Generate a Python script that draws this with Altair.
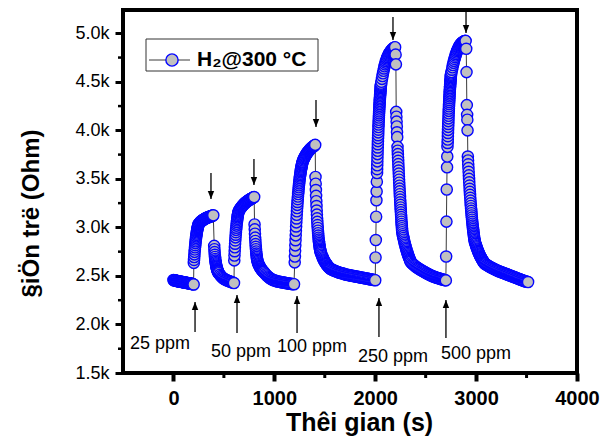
import altair as alt
import pandas as pd

FONT = "Liberation Sans"

# Resistance trace of the sensor (Ohm). Each run is (start time s, sampling step s, readings).
air_start = [
    (0, 5, [2458, 2456, 2455, 2454, 2452, 2451, 2450, 2449, 2447, 2446, 2445, 2444, 2443, 2442,
            2441, 2440, 2439, 2438, 2437, 2436, 2435, 2434, 2433, 2432, 2431, 2430, 2429, 2428,
            2427, 2426, 2425, 2424, 2423, 2422, 2421, 2420, 2419, 2418, 2416, 2414, 2412]),
]

cycle_25ppm = [
    (202, 2, [2635, 2665, 2695, 2722, 2748, 2772, 2795, 2817, 2838, 2857, 2875, 2892, 2908,
              2923, 2937, 2950, 2962, 2973, 2984, 2994, 3003, 3012, 3020, 3028, 3035]),
    (255, 5, [3041, 3047, 3053, 3058, 3063, 3067, 3071, 3075, 3079, 3082, 3085, 3088, 3091,
              3094, 3096, 3099, 3101, 3103, 3105, 3107, 3109, 3111, 3113, 3115, 3117, 3119,
              3121, 3123, 3125]),
    (404, 2, [2810, 2775, 2745, 2718, 2695, 2675, 2658, 2643, 2630, 2618, 2607, 2597, 2588,
              2580, 2572, 2565, 2558, 2552, 2546, 2541, 2536]),
    (450, 10, [2528, 2512, 2499, 2488, 2479, 2471, 2465, 2460, 2455, 2451, 2447, 2443, 2439,
               2435, 2431, 2427]),
]

cycle_50ppm = [
    (603, 2, [2660, 2710, 2755, 2795, 2832, 2866, 2897, 2925, 2951, 2975, 2997, 3018, 3037,
              3055, 3072, 3088, 3103, 3117, 3130, 3142, 3153, 3163]),
    (650, 5, [3172, 3181, 3189, 3197, 3204, 3211, 3218, 3224, 3230, 3236, 3241, 3246, 3251,
              3256, 3260, 3264, 3268, 3272, 3276, 3279, 3283, 3286, 3289, 3292, 3295, 3298,
              3301, 3304, 3307, 3310, 3313]),
    (804, 2, [3030, 2980, 2935, 2895, 2860, 2828, 2800, 2775, 2752, 2731, 2712, 2695, 2680,
              2666, 2653]),
    (836, 4, [2641, 2630, 2620, 2611, 2602, 2594, 2587, 2580, 2574, 2568, 2562, 2557, 2552,
              2547, 2543, 2539]),
    (905, 10, [2528, 2516, 2505, 2495, 2486, 2478, 2471, 2465, 2460, 2456, 2452, 2449, 2446,
               2443, 2441, 2439, 2437, 2435, 2433, 2431, 2429, 2427, 2425, 2423, 2421, 2420,
               2418, 2417, 2416, 2415]),
]

cycle_100ppm = [
    (1202, 2, [2640, 2700, 2760, 2815, 2868, 2918, 2965, 3010, 3052, 3092, 3130, 3166, 3200,
               3232, 3262, 3291, 3318, 3344, 3368, 3391, 3413, 3434, 3454, 3473, 3491, 3508,
               3524, 3539, 3553, 3567, 3580, 3593, 3605, 3617, 3628, 3639, 3649, 3659, 3668,
               3677]),
    (1285, 5, [3690, 3702, 3713, 3723, 3733, 3742, 3751, 3759, 3767, 3774, 3781, 3788, 3794,
               3800, 3806, 3811, 3816, 3821, 3826, 3830, 3834, 3838, 3842, 3846, 3850]),
    (1408, 2, [3520, 3450, 3385, 3325, 3270, 3220, 3174, 3132, 3093, 3057, 3024, 2994, 2966,
               2940, 2916, 2894, 2874, 2856, 2839, 2823, 2808, 2794, 2781, 2769, 2758, 2747]),
    (1463, 5, [2735, 2720, 2706, 2693, 2681, 2670, 2660, 2650, 2641, 2633, 2625, 2618, 2611,
               2604, 2598, 2592, 2586, 2581, 2576]),
    (1560, 10, [2571, 2566, 2561, 2556, 2552, 2548, 2544, 2540, 2536, 2533, 2530, 2527, 2524,
                2521, 2518, 2515, 2512, 2510, 2508, 2506, 2504, 2502, 2500, 2498, 2496, 2494,
                2492, 2490, 2488, 2486, 2484, 2482, 2480, 2478, 2476, 2474, 2472, 2470, 2468,
                2466, 2464, 2462, 2460, 2458, 2456]),
]

cycle_250ppm = [
    (2003, 3, [2690, 2870, 3110, 3280]),
    (2014, 2, [3370, 3470, 3560]),
    (2019, 1, [3600, 3640, 3680, 3718, 3755, 3790, 3824, 3857, 3889, 3920, 3950, 3979, 4007,
               4034, 4060, 4085, 4109, 4132, 4154, 4175, 4195, 4215, 4234, 4252, 4270, 4287,
               4304, 4320, 4336, 4351, 4366, 4380, 4394, 4408, 4421, 4434, 4446, 4458, 4470,
               4481]),
    (2062, 5, [4500, 4530, 4560, 4588, 4614, 4638, 4660, 4680, 4698, 4714, 4729, 4743, 4756,
               4768, 4779, 4789, 4798, 4806, 4814, 4821, 4827, 4833, 4838, 4843, 4847, 4851,
               4854, 4857]),
    (2202, 3, [4780, 4680]),
    (2208, 2, [4190, 4140, 4090, 4040, 3980, 3930]),
    (2221, 1, [3830]),
    (2223, 1.5, [3790, 3755, 3720, 3686, 3652, 3619, 3586, 3554, 3522, 3491, 3460, 3430, 3400,
                 3371, 3342, 3314, 3286, 3259, 3232, 3206, 3180, 3155, 3130, 3106, 3082, 3059,
                 3036, 3014, 2992, 2971, 2950]),
    (2272, 4, [2930, 2910, 2891, 2873, 2855, 2838, 2822, 2806, 2791, 2776, 2762, 2748, 2735,
               2722, 2710, 2698, 2687, 2676, 2666, 2656]),
    (2350, 10, [2645, 2634, 2624, 2615, 2606, 2598, 2590, 2583, 2576, 2569, 2563, 2557, 2551,
                2546, 2541, 2533, 2527, 2521, 2516, 2511, 2506, 2501, 2497, 2493, 2489, 2485,
                2481, 2478, 2475, 2472, 2469, 2466, 2463, 2460, 2457, 2454]),
]

cycle_500ppm = [
    (2703, 3, [2700, 3060, 3390, 3620]),
    (2714, 2, [3730, 3830]),
    (2718, 1, [3870, 3905, 3940, 3973, 4005, 4036, 4066, 4095, 4123, 4150, 4176, 4201, 4225,
               4248, 4270, 4291, 4311, 4331, 4350, 4368, 4386, 4403, 4420, 4436, 4452, 4467,
               4482, 4496, 4510, 4523, 4536, 4549, 4561, 4573, 4585]),
    (2756, 5, [4600, 4625, 4650, 4673, 4695, 4716, 4736, 4754, 4771, 4787, 4802, 4816, 4829,
               4841, 4852, 4862, 4871, 4879, 4886, 4892, 4898, 4903, 4907, 4911, 4914, 4917,
               4919, 4921, 4922]),
    (2902, 3, [4840, 4600, 4260, 4160]),
    (2913, 2, [4110, 4000]),
    (2918, 1, [3730]),
    (2920, 2, [3690, 3650, 3611, 3573, 3536, 3500, 3465, 3431, 3398, 3366, 3335, 3305, 3276,
               3248, 3221, 3195, 3170, 3146, 3123, 3101, 3079, 3058, 3038, 3019, 3000, 2982,
               2964, 2947, 2931, 2915, 2900, 2885, 2871, 2857]),
    (2990, 4, [2843, 2830, 2817, 2805, 2793, 2781, 2770, 2759, 2749, 2739, 2729, 2720, 2711,
               2702, 2694, 2686, 2678, 2671, 2664, 2657, 2650, 2644, 2638, 2632, 2626]),
    (3095, 10, [2621, 2614, 2607, 2601, 2595, 2589, 2583, 2578, 2573, 2568, 2563, 2558, 2553,
                2549, 2545, 2541, 2537, 2533, 2529, 2525, 2521, 2517, 2513, 2509, 2505, 2501,
                2497, 2493, 2489, 2485, 2481, 2477, 2473, 2469, 2465, 2461, 2457, 2453, 2449,
                2446, 2443, 2440, 2437]),
]

# Gas-on (up) and gas-off (down) markers: time, arrow tail, arrow tip (Ohm)
gas_on_t = [214, 630, 1225, 2037, 2701]
gas_on_tail = [1922, 1912, 1912, 1871, 1861]
gas_on_tip = [2231, 2304, 2294, 2273, 2252]
gas_off_t = [372, 798, 1413, 2176, 2900]
gas_off_tail = [3561, 3705, 4313, 5168, 5230]
gas_off_tip = [3293, 3437, 4035, 4931, 5003]

conc_labels = ["25 ppm", "50 ppm", "100 ppm", "250 ppm", "500 ppm"]
conc_label_t = [-431, 372, 1026, 1829, 2652]
conc_label_r = [1799, 1716, 1768, 1665, 1696]

y_major = [1500, 2000, 2500, 3000, 3500, 4000, 4500, 5000]
y_minor = [1750, 2250, 2750, 3250, 3750, 4250, 4750]
x_major = [0, 1000, 2000, 3000, 4000]
x_minor = [500, 1500, 2500, 3500]

rows = []
for cycle in [air_start, cycle_25ppm, cycle_50ppm, cycle_100ppm, cycle_250ppm, cycle_500ppm]:
    for t0, dt, readings in cycle:
        for i, r in enumerate(readings):
            rows.append((t0 + i * dt, r))
trace = pd.DataFrame(rows, columns=["t", "r"])
trace["order"] = range(len(trace))

x_scale = alt.Scale(domain=[-500, 4000], nice=False, zero=False)
y_scale = alt.Scale(domain=[1500, 5240], nice=False, zero=False)

x_axis = alt.Axis(
    values=x_major, format="d", title="Thêi gian (s)", grid=False, domain=False,
    labelFont=FONT, labelFontSize=20, labelFontWeight="bold", labelColor="black",
    labelPadding=7, labelFlush=False, labelOverlap=False,
    tickSize=8, tickWidth=4, tickColor="black",
    titleFont=FONT, titleFontSize=25, titleFontWeight="bold", titleColor="black",
    titleX=236, titleY=57, titleAlign="center", titleBaseline="alphabetic",
)
y_axis = alt.Axis(
    values=y_major, labelExpr="format(datum.value / 1000, '.1f') + 'k'",
    title="§iÖn trë (Ohm)", grid=False, domain=False,
    labelFont=FONT, labelFontSize=18, labelColor="black", labelPadding=6,
    labelFlush=False, labelOverlap=False,
    tickSize=8, tickWidth=3, tickColor="black",
    titleFont=FONT, titleFontSize=24, titleFontWeight="bold", titleColor="black",
    titleAngle=270, titleX=-85, titleY=203, titleAlign="center", titleBaseline="alphabetic",
)

X = alt.X("t:Q", scale=x_scale, axis=x_axis)
Y = alt.Y("r:Q", scale=y_scale, axis=y_axis)

MARKER_FILL = "#c0c0c0"
MARKER_EDGE = "#0505ff"

line = alt.Chart(trace).mark_line(color="#3a3a3a", strokeWidth=1).encode(
    x=X, y=Y, order="order:Q"
)
points = alt.Chart(trace).mark_point(
    shape="circle", filled=True, fill=MARKER_FILL, stroke=MARKER_EDGE,
    strokeWidth=1.4, size=125, opacity=1,
).encode(x=X, y=Y, order="order:Q")

# minor ticks on the left and bottom axes
minor_y = alt.Chart(pd.DataFrame({"r": y_minor})).mark_rule(
    color="black", strokeWidth=2.5
).encode(y=Y, x=alt.value(-5), x2=alt.value(0))
minor_x = alt.Chart(pd.DataFrame({"t": x_minor})).mark_rule(
    color="black", strokeWidth=3
).encode(x=X, y=alt.value(363), y2=alt.value(368))

# arrows
on_df = pd.DataFrame({"t": gas_on_t, "r": gas_on_tail, "r2": gas_on_tip})
off_df = pd.DataFrame({"t": gas_off_t, "r": gas_off_tail, "r2": gas_off_tip})

on_shaft = alt.Chart(on_df).mark_rule(color="black", strokeWidth=1.3).encode(
    x=X, y=Y, y2="r2:Q"
)
off_shaft = alt.Chart(off_df).mark_rule(color="black", strokeWidth=1.3).encode(
    x=X, y=Y, y2="r2:Q"
)
on_head = alt.Chart(on_df).mark_point(
    shape="M0,0L-0.4,1L0.4,1Z", filled=True, fill="black", size=256, opacity=1
).encode(x=X, y=alt.Y("r2:Q", scale=y_scale, axis=y_axis))
off_head = alt.Chart(off_df).mark_point(
    shape="M0,0L-0.4,-1L0.4,-1Z", filled=True, fill="black", size=256, opacity=1
).encode(x=X, y=alt.Y("r2:Q", scale=y_scale, axis=y_axis))

labels = alt.Chart(
    pd.DataFrame({"t": conc_label_t, "r": conc_label_r, "label": conc_labels})
).mark_text(align="left", baseline="middle", font=FONT, fontSize=18, color="black").encode(
    x=X, y=Y, text="label:N"
)

# legend box
one = pd.DataFrame({"k": [0]})
leg_box = alt.Chart(one).mark_rect(fill="white", stroke="#333333", strokeWidth=1).encode(
    x=alt.value(23), x2=alt.value(195), y=alt.value(29), y2=alt.value(61)
)
leg_line = alt.Chart(one).mark_rule(color="#3a3a3a", strokeWidth=1).encode(
    x=alt.value(26), x2=alt.value(67), y=alt.value(50)
)
leg_dot = alt.Chart(one).mark_point(
    shape="circle", filled=True, fill=MARKER_FILL, stroke=MARKER_EDGE,
    strokeWidth=1.4, size=150, opacity=1,
).encode(x=alt.value(49), y=alt.value(50))
leg_text = alt.Chart(one).mark_text(
    align="left", baseline="alphabetic", font=FONT, fontSize=21, fontWeight="bold",
    color="black", text="H₂@300 °C",
).encode(x=alt.value(74), y=alt.value(56))

chart = alt.layer(
    line, points, minor_y, minor_x, on_shaft, off_shaft, on_head, off_head, labels,
    leg_box, leg_line, leg_dot, leg_text,
).properties(
    width=454, height=363,
    autosize=alt.AutoSizeParams(type="none"),
    padding={"left": 123, "top": 10, "right": 28, "bottom": 64},
).configure_view(stroke="black", strokeWidth=4)

chart.save("out.html", embed_options={"renderer": "svg", "actions": False})
